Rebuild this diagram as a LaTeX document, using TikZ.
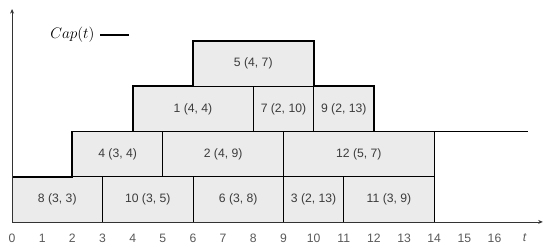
\documentclass[tikz,border=0pt]{standalone}
\usepackage{fontspec}
\setmainfont{Liberation Sans}
\usepackage{amsmath}
\usepackage{tikz}
\usetikzlibrary{arrows.meta}
\definecolor{jobfill}{HTML}{EBEBEB}
\definecolor{labgray}{HTML}{3C3C3C}
\definecolor{tickgray}{HTML}{595959}
\tikzset{
  ax/.style={-{Stealth[length=1.5mm,width=1.3mm]},line width=0.7pt,black!80},
  job/.style={draw=black,fill=jobfill,line width=0.7pt},
  capline/.style={line width=1.7pt,black},
  joblab/.style={font=\fontsize{11.5}{13}\selectfont,text=labgray,inner sep=0pt},
  ticklab/.style={font=\fontsize{11.5}{13}\selectfont,text=tickgray,inner sep=0pt}
}

\begin{document}
\begin{tikzpicture}
\useasboundingbox (-0.4,-0.93) rectangle (17.84,7.36);
% jobs: start/length/row bottom/label
\foreach \s/\w/\r/\lab [count=\i] in {0/3/0/{8 (3, 3)},3/3/0/{10 (3, 5)},6/3/0/{6 (3, 8)},9/2/0/{3 (2, 13)},11/3/0/{11 (3, 9)},
  2/3/1.5/{4 (3, 4)},5/4/1.5/{2 (4, 9)},9/5/1.5/{12 (5, 7)},
  4/4/3/{1 (4, 4)},8/2/3/{7 (2, 10)},10/2/3/{9 (2, 13)},
  6/4/4.5/{5 (4, 7)}}{
  \draw[job] (\s,\r) rectangle ++(\w,1.5);
  \node[joblab] (job\i) at (\s+\w/2,\r+0.75) {\lab};
}
% capacity profile
\draw[capline] (0,1.5)--(2,1.5)--(2,3)--(4,3)--(4,4.5)--(6,4.5)--(6,6)--(10,6)--(10,4.5)--(12,4.5)--(12,3)--(17.1,3);
% axes
\coordinate (O) at (0,0);
\coordinate (xend) at (17.6,0);
\coordinate (yend) at (0,7.06);
\draw[ax] (O)--(xend);
\draw[ax] (O)--(yend);
\foreach \t in {0,...,16}{
  \node[ticklab] (tick\t) at (\t,-0.53) {\t};
}
\node[ticklab] (tlab) at (17,-0.53) {\textit{t}};
% legend
\node[font=\fontsize{15}{17}\selectfont,inner sep=0pt] (caplab) at (2,6.2) {$Cap(t)$};
\coordinate (legA) at (2.92,6.2);
\coordinate (legB) at (3.88,6.2);
\draw[capline] (legA)--(legB);
\end{tikzpicture}
\end{document}
